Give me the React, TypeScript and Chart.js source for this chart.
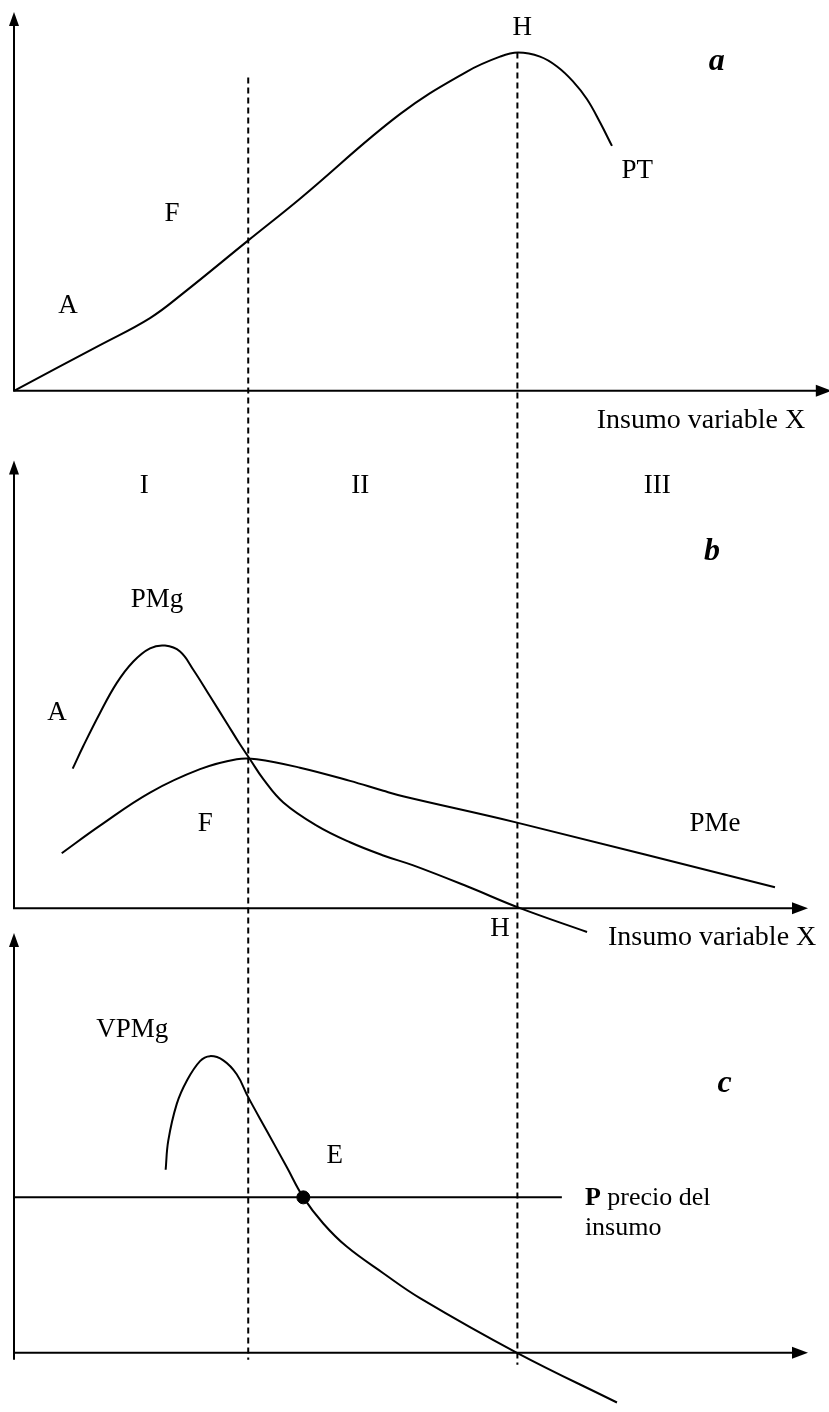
import React, { useEffect, useRef } from 'react';
import { Chart, registerables } from 'chart.js';

Chart.register(...registerables);

// ---------- Data (x = insumo variable X, arbitrary units 0..100) ----------
// Panel a: Producto total (PT)
const ptX = [0, 10.83, 17.13, 21.28, 29.47, 36.02, 48.61, 57.05, 61.21, 63.48, 66.25, 68.39, 70.4, 72.17, 73.8, 75.31];
const ptY = [0, 13.5, 21.5, 28.8, 44.4, 56.8, 81.8, 94.4, 98.8, 100, 98.8, 95.9, 91.5, 86.2, 79.4, 72.4];

// Panel b: Producto marginal (PMg) y producto medio (PMe)
const pmgX = [7.39, 8.73, 10.83, 12.93, 15.03, 17.13, 19.02, 20.91, 22.58, 24.69, 26.79, 28.46, 29.72, 31.4, 33.92, 38.12, 42.32, 46.51, 50.29, 57.05, 63.73, 72.17];
const pmgY = [56.1, 65.2, 78.5, 90.5, 99.2, 104.5, 105.6, 103.2, 95.9, 85.2, 74.5, 65.9, 59.9, 51.9, 42.5, 33.2, 26.5, 21.2, 17.2, 8.8, 0, -9.6];
const pmeX = [6.01, 10.83, 17.13, 23.43, 28.05, 30.57, 36.02, 42.32, 46.51, 49.24, 63.35, 95.84];
const pmeY = [22.1, 33.2, 46.5, 55.9, 59.9, 59.9, 56.5, 51.2, 47.2, 44.8, 34.4, 8.4];

// Panel c: Valor del producto marginal (VPMg) y precio del insumo (P)
const vpmgX = [19.1, 19.43, 20.49, 21.75, 23.43, 24.69, 26.36, 28.05, 29.51, 31.83, 34.35, 36.44, 38.95, 41.9, 46.51, 51.13, 63.35, 75.94];
const vpmgY = [73.6, 85.3, 100, 109.3, 117.3, 119.3, 117.6, 112, 102.7, 89.3, 74.7, 62.5, 52, 42.7, 32, 22, 0, -20];
const priceX = [0, 69.0];
const priceY = [62.5, 62.5];
const eqX = [36.44];
const eqY = [62.5];

// Stage boundaries (dashed verticals): PMe max (F) and PT max (H)
const stageX = [29.5, 63.4];
const stageTopA = [92.6, 100]; // start, in panel-a units
const stageBottomC = [-2.8, -4.8]; // end, in panel-c units

// Axes per panel
const axisScales = ['yA', 'yB', 'yC'];
const axisTop = [112, 180, 168.8];
const axisBottom = [0, 0, -2.8];
const axisRight = [103, 100, 100];

const pts = (xs: number[], ys: number[]) => xs.map((x, i) => ({ x, y: ys[i] }));

type Seg = { text: string; bold?: boolean; italic?: boolean };
type Label = { scale: string; x: number; y: number; segs: Seg[]; size: number; align: 'center' | 'left' };

const LABELS: Label[] = [
  // panel a
  { scale: 'yA', x: 64.0, y: 107.4, segs: [{ text: 'H' }], size: 27, align: 'center' },
  { scale: 'yA', x: 88.5, y: 97.4, segs: [{ text: 'a', bold: true, italic: true }], size: 32, align: 'center' },
  { scale: 'yA', x: 78.5, y: 65, segs: [{ text: 'PT' }], size: 27, align: 'center' },
  { scale: 'yA', x: 19.9, y: 52.4, segs: [{ text: 'F' }], size: 27, align: 'center' },
  { scale: 'yA', x: 6.8, y: 25, segs: [{ text: 'A' }], size: 27, align: 'center' },
  { scale: 'yA', x: 73.4, y: -8.8, segs: [{ text: 'Insumo variable X' }], size: 28, align: 'left' },
  // panel b
  { scale: 'yB', x: 16.4, y: 170, segs: [{ text: 'I' }], size: 27, align: 'center' },
  { scale: 'yB', x: 43.6, y: 170, segs: [{ text: 'II' }], size: 27, align: 'center' },
  { scale: 'yB', x: 81.0, y: 170, segs: [{ text: 'III' }], size: 27, align: 'center' },
  { scale: 'yB', x: 87.9, y: 143.2, segs: [{ text: 'b', bold: true, italic: true }], size: 32, align: 'center' },
  { scale: 'yB', x: 18.0, y: 124, segs: [{ text: 'PMg' }], size: 27, align: 'center' },
  { scale: 'yB', x: 5.4, y: 78.4, segs: [{ text: 'A' }], size: 27, align: 'center' },
  { scale: 'yB', x: 24.1, y: 34, segs: [{ text: 'F' }], size: 27, align: 'center' },
  { scale: 'yB', x: 88.3, y: 34, segs: [{ text: 'PMe' }], size: 27, align: 'center' },
  { scale: 'yB', x: 61.2, y: -8.4, segs: [{ text: 'H' }], size: 27, align: 'center' },
  { scale: 'yB', x: 74.8, y: -12, segs: [{ text: 'Insumo variable X' }], size: 28, align: 'left' },
  // panel c
  { scale: 'yC', x: 14.9, y: 130, segs: [{ text: 'VPMg' }], size: 27, align: 'center' },
  { scale: 'yC', x: 89.5, y: 108, segs: [{ text: 'c', bold: true, italic: true }], size: 32, align: 'center' },
  { scale: 'yC', x: 40.4, y: 79.2, segs: [{ text: 'E' }], size: 27, align: 'center' },
  { scale: 'yC', x: 71.9, y: 62.0, segs: [{ text: 'P', bold: true }, { text: ' precio del' }], size: 26, align: 'left' },
  { scale: 'yC', x: 71.9, y: 50, segs: [{ text: 'insumo' }], size: 26, align: 'left' },
];

const FONT_FAMILY = '"Liberation Serif", "Times New Roman", serif';
const fontOf = (s: Seg, size: number) =>
  `${s.italic ? 'italic ' : ''}${s.bold ? 'bold ' : ''}${size}px ${FONT_FAMILY}`;

const overlay = {
  id: 'economicsOverlay',
  beforeDatasetsDraw(chart: any) {
    const ctx = chart.ctx as CanvasRenderingContext2D;
    const xs = chart.scales.x;
    ctx.save();
    ctx.strokeStyle = '#000';
    ctx.fillStyle = '#000';
    ctx.lineWidth = 2;
    // axes with arrows
    axisScales.forEach((id, i) => {
      const ys = chart.scales[id];
      const x0 = xs.getPixelForValue(0);
      const y0 = ys.getPixelForValue(0);
      const yTop = ys.getPixelForValue(axisTop[i]);
      const yBot = ys.getPixelForValue(axisBottom[i]);
      const xEnd = xs.getPixelForValue(axisRight[i]);
      ctx.beginPath();
      ctx.moveTo(x0, yBot);
      ctx.lineTo(x0, yTop + 8);
      ctx.stroke();
      ctx.beginPath();
      ctx.moveTo(x0 - 1, y0);
      ctx.lineTo(xEnd - 10, y0);
      ctx.stroke();
      // vertical arrow head
      ctx.beginPath();
      ctx.moveTo(x0, yTop);
      ctx.lineTo(x0 + 5, yTop + 14);
      ctx.lineTo(x0 - 5, yTop + 14);
      ctx.closePath();
      ctx.fill();
      // horizontal arrow head
      ctx.beginPath();
      ctx.moveTo(xEnd, y0);
      ctx.lineTo(xEnd - 16, y0 - 6);
      ctx.lineTo(xEnd - 16, y0 + 6);
      ctx.closePath();
      ctx.fill();
    });
    // dashed stage boundaries
    ctx.setLineDash([6, 4]);
    stageX.forEach((sx, i) => {
      const px = xs.getPixelForValue(sx);
      ctx.beginPath();
      ctx.moveTo(px, chart.scales.yA.getPixelForValue(stageTopA[i]));
      ctx.lineTo(px, chart.scales.yC.getPixelForValue(stageBottomC[i]));
      ctx.stroke();
    });
    ctx.restore();
  },
  afterDatasetsDraw(chart: any) {
    const ctx = chart.ctx as CanvasRenderingContext2D;
    const xs = chart.scales.x;
    ctx.save();
    ctx.fillStyle = '#000';
    ctx.textBaseline = 'middle';
    ctx.textAlign = 'left';
    LABELS.forEach((l) => {
      const px = xs.getPixelForValue(l.x);
      const py = chart.scales[l.scale].getPixelForValue(l.y);
      let total = 0;
      l.segs.forEach((s) => {
        ctx.font = fontOf(s, l.size);
        total += ctx.measureText(s.text).width;
      });
      let cx = l.align === 'center' ? px - total / 2 : px;
      l.segs.forEach((s) => {
        ctx.font = fontOf(s, l.size);
        ctx.fillText(s.text, cx, py);
        cx += ctx.measureText(s.text).width;
      });
    });
    ctx.restore();
  },
};

const curve = (data: { x: number; y: number }[], yAxisID: string) => ({
  type: 'line' as const,
  data,
  yAxisID,
  xAxisID: 'x',
  borderColor: '#000',
  borderWidth: 2,
  pointRadius: 0,
  fill: false,
  clip: false as const,
  tension: 0.4,
  cubicInterpolationMode: 'default' as const,
});

export default function App() {
  const ref = useRef<HTMLCanvasElement>(null);
  useEffect(() => {
    const canvas = ref.current;
    if (!canvas) return;
    const chart = new Chart(canvas, {
      type: 'line',
      data: {
        datasets: [
          curve(pts(ptX, ptY), 'yA'),
          curve(pts(pmgX, pmgY), 'yB'),
          curve(pts(pmeX, pmeY), 'yB'),
          curve(pts(vpmgX, vpmgY), 'yC'),
          { ...curve(pts(priceX, priceY), 'yC'), tension: 0 },
          {
            type: 'line' as const,
            data: pts(eqX, eqY),
            yAxisID: 'yC',
            xAxisID: 'x',
            showLine: false,
            pointRadius: 6.5,
            pointBackgroundColor: '#000',
            pointBorderColor: '#000',
            clip: false as const,
          },
        ],
      },
      options: {
        responsive: false,
        animation: false,
        devicePixelRatio: 1,
        events: [],
        layout: { padding: { left: 14, right: 21, top: 12, bottom: 0 } },
        plugins: {
          legend: { display: false },
          tooltip: { enabled: false },
          title: { display: false },
        },
        scales: {
          x: { type: 'linear', min: 0, max: 100, display: false },
          yA: { type: 'linear', position: 'left', min: -8, max: 112, display: false, stack: 'panels', stackWeight: 408, weight: 3 },
          yB: { type: 'linear', position: 'left', min: -4.8, max: 197.2, display: false, stack: 'panels', stackWeight: 505, weight: 2 },
          yC: { type: 'linear', position: 'left', min: -20.8, max: 174, display: false, stack: 'panels', stackWeight: 487, weight: 1 },
        },
      } as any,
      plugins: [overlay],
    });
    return () => chart.destroy();
  }, []);
  return (
    <div style={{ position: 'absolute', left: 0, top: 0, width: 829, height: 1412, background: '#fff' }}>
      <canvas ref={ref} width={829} height={1412} style={{ display: 'block' }} />
    </div>
  );
}
